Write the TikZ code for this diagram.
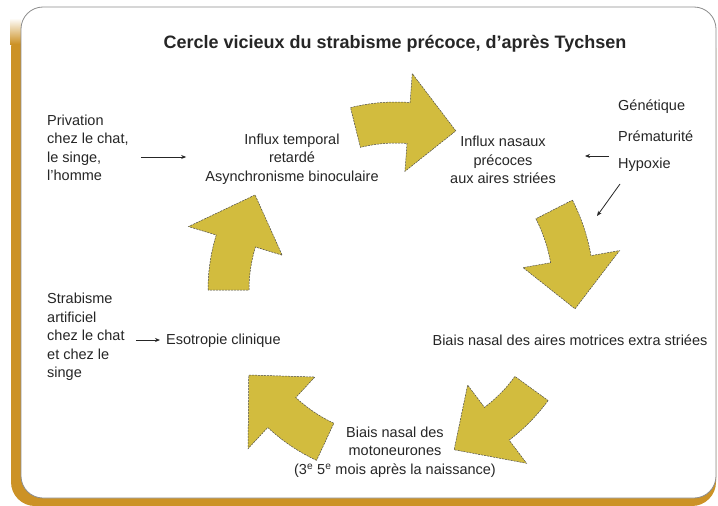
\documentclass[tikz,border=0pt]{standalone}
\usepackage{fontspec}
\setmainfont{Liberation Sans}
\usetikzlibrary{calc,arrows.meta}
\definecolor{goldshadow}{RGB}{204,146,38}
\definecolor{arrowgold}{RGB}{210,188,62}
\definecolor{txt}{RGB}{38,38,38}
% #1 tail angle, #2 head-base angle, #3 tip angle (degrees, clockwise from up), #4 radial offset
\newcommand\cyclearrow[4]{%
  \filldraw[bigarrow]
    plot[domain=#1:#2,samples=15] ({396+(188+#4)*sin(\x)},{290-(188+#4)*cos(\x)})
    -- ({396+(217+#4)*sin(#2)},{290-(217+#4)*cos(#2)})
    -- ({396+(170+#4)*sin(#3)},{290-(170+#4)*cos(#3)})
    -- ({396+(119+#4)*sin(#2)},{290-(119+#4)*cos(#2)})
    -- plot[domain=#2:#1,samples=15] ({396+(147+#4)*sin(\x)},{290-(147+#4)*cos(\x)})
    -- cycle;}
\begin{document}
\begin{tikzpicture}[x=1pt,y=-1pt,
  lbl/.style={inner sep=0pt, text=txt, font=\fontsize{14.5}{18.5}\selectfont},
  thinarr/.style={-{Stealth[length=5pt,width=4pt]}, line width=0.8pt, draw=txt},
  bigarrow/.style={fill=arrowgold, draw=black!70, line width=0.5pt, dash pattern=on 2pt off 1pt}]
\useasboundingbox (0,0) rectangle (718,506);
% frame with golden shadow
\fill[goldshadow, rounded corners=24pt] (11,24) rectangle (716,506);
\shade[top color=white, bottom color=goldshadow] (10,18) rectangle (21,44);
\filldraw[fill=white, draw=black!45, line width=0.8pt, rounded corners=22pt] (21,7) rectangle (716,498);
% title
\node[lbl, font=\fontsize{18}{21}\selectfont\bfseries] (title) at (395,44) {Cercle vicieux du strabisme précoce, d’après Tychsen};
% big cycle arrows
\cyclearrow{-14}{4.3}{20.6}{0}
\cyclearrow{63}{80}{96}{10}
\cyclearrow{126}{143}{160}{0}
\cyclearrow{205}{223}{240}{0}
\cyclearrow{270}{287}{304}{0}
% texts
\node[lbl, align=left, anchor=west] (privation) at (47,148) {Privation\\chez le chat,\\le singe,\\l’homme};
\node[lbl, align=center] (temporal) at (292,159) {Influx temporal\\retardé\\Asynchronisme binoculaire};
\node[lbl, align=center] (nasaux) at (503,160) {Influx nasaux\\précoces\\aux aires striées};
\node[lbl, anchor=west] (gen) at (618,107) {Génétique};
\node[lbl, anchor=west] (prem) at (618,136) {Prématurité};
\node[lbl, anchor=west] (hyp) at (618,165) {Hypoxie};
\node[lbl] (aires) at (570,340) {Biais nasal des aires motrices extra striées};
\node[lbl, align=center] (moto) at (395,452) {Biais nasal des\\motoneurones\\(3\textsuperscript{e} 5\textsuperscript{e} mois après la naissance)};
\node[lbl, align=left, anchor=west] (strab) at (47,337) {Strabisme\\artificiel\\chez le chat\\et chez le\\singe};
\node[lbl, anchor=west] (eso) at (166,341) {Esotropie clinique};
% thin connectors
\draw[thinarr] ($(privation.east)+(12,9)$) -- ($(temporal.west)+(-19,-2)$);
\draw[thinarr] ($(hyp.west)+(-9,-9)$) -- ($(nasaux.east)+(29,-4)$);
\coordinate (diagend) at (597,216);
\draw[thinarr] ($(hyp.west)+(2,19)$) -- (diagend);
\draw[thinarr] ($(strab.east)+(11,3)$) -- ($(eso.west)+(-6,-1)$);
\end{tikzpicture}
\end{document}
